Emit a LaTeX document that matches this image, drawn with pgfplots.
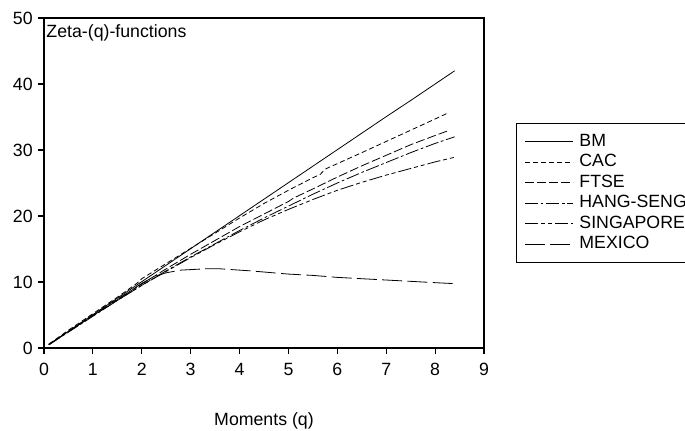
\documentclass[border=0pt]{standalone}
\usepackage{fontspec}
\setmainfont{Liberation Sans}
\usepackage{pgfplots}
\pgfplotsset{compat=1.18}

% Estimated generalized scaling exponents zeta(q)
\pgfplotstableread{
q     v
0.10  0.55
0.50  2.55
1.00  5.05
1.50  7.55
2.00  10.05
2.50  12.55
3.00  15.05
3.50  17.55
4.00  20.05
4.50  22.55
5.00  25.05
5.50  27.55
6.00  30.05
6.50  32.55
7.00  35.05
7.50  37.50
8.00  40.00
8.40  42.00
}\bm

\pgfplotstableread{
q     v
0.10  0.60
0.50  2.70
1.00  5.20
1.50  7.70
1.90  9.80
2.00  10.50
2.50  12.80
3.00  15.10
3.50  17.40
4.00  19.70
4.50  21.90
5.00  23.90
5.50  25.80
5.65  26.30
5.75  27.10
6.50  29.60
7.00  31.30
7.50  33.00
8.00  34.70
8.26  35.60
}\cac

\pgfplotstableread{
q     v
0.10  0.50
0.50  2.50
1.00  5.00
1.50  7.40
2.00  9.70
2.50  12.00
3.00  14.20
3.50  16.30
4.00  18.40
4.50  20.30
5.00  22.20
5.10  22.70
5.50  24.10
6.00  25.90
6.50  27.60
7.00  29.20
7.50  30.80
8.00  32.20
8.26  32.90
}\ftse

\pgfplotstableread{
q     v
0.10  0.50
0.50  2.40
1.00  4.80
1.50  7.20
2.00  9.50
2.50  11.70
3.00  13.80
3.50  15.80
4.00  17.80
4.50  19.70
5.00  21.50
5.50  23.30
6.00  25.00
6.50  26.60
7.00  28.10
7.50  29.60
8.00  31.00
8.40  32.00
}\hangseng

\pgfplotstableread{
q     v
0.10  0.50
0.50  2.50
1.00  4.90
1.50  7.20
2.00  9.50
2.50  11.60
3.00  13.70
3.50  15.70
4.00  17.60
4.50  19.40
5.00  21.00
5.50  22.50
6.00  23.90
6.50  25.10
7.00  26.20
7.50  27.20
8.00  28.20
8.40  28.90
}\singapore

\pgfplotstableread{
q     v
0.10  0.50
0.50  2.50
1.00  4.90
1.50  7.30
2.00  9.80
2.25  10.80
2.50  11.40
2.80  11.80
3.30  12.00
3.60  12.00
4.20  11.70
5.00  11.20
5.50  11.00
6.00  10.70
6.50  10.50
7.00  10.30
7.50  10.10
8.00  9.90
8.40  9.75
}\mexico

\newcommand{\chartfont}{\fontsize{13.3}{15.4}\selectfont}

\begin{document}
\begin{tikzpicture}
\begin{axis}[
  at={(0,0)}, anchor=south west,
  scale only axis,
  width=330pt, height=247.5pt,
  xmin=0, xmax=9, ymin=0, ymax=50,
  xtick={0,1,...,9}, ytick={0,10,...,50},
  xtick pos=bottom, ytick pos=left,
  tick align=outside,
  major tick length=4.5pt,
  axis line style={line width=0.9pt},
  tick style={line width=0.9pt, black},
  /pgf/number format/assume math mode=true,
  ticklabel style={font=\chartfont},
  xticklabel style={yshift=-3.5pt},
  yticklabel style={xshift=-0.5pt},
  xlabel={Moments (q)},
  xlabel style={font=\chartfont, at={(axis description cs:0.5,0)}, anchor=center, yshift=-54.5pt},
  every axis plot/.append style={line width=0.6pt, black},
  legend cell align=left,
  legend style={
    at={(rel axis cs:1.0727,0.682)}, anchor=north west,
    draw=black, line width=0.6pt,
    font=\chartfont,
    inner ysep=6pt,
    row sep=0pt,
    nodes={inner sep=1.2pt, text height=9.6pt, text depth=3pt, inner ysep=1.4pt},
  },
  legend image code/.code={%
    \draw[#1] (3pt,0pt) -- (39pt,0pt);
    \path (0pt,0pt) (42.5pt,0pt);},
]
\addplot[solid] table[x=q, y=v] {\bm};
\addplot[dash pattern=on 3.75pt off 2.25pt] table[x=q, y=v] {\cac};
\addplot[dash pattern=on 6.75pt off 2.25pt] table[x=q, y=v] {\ftse};
\addplot[dash pattern=on 10pt off 2pt on 2pt off 2pt] table[x=q, y=v] {\hangseng};
\addplot[dash pattern=on 10pt off 2.2pt on 3pt off 2.2pt on 3pt off 2.2pt] table[x=q, y=v] {\singapore};
\addplot[dash pattern=on 15pt off 4pt] table[x=q, y=v] {\mexico};
\legend{BM, CAC, FTSE, HANG-SENG, SINGAPORE, MEXICO}
\node[anchor=north west, inner sep=0pt, font=\chartfont]
  at (rel axis cs:0.005,0.982) {Zeta-(q)-functions};
\end{axis}
\pgfresetboundingbox
\useasboundingbox (-33pt,-61.5pt) rectangle (480.75pt,261pt);
\end{tikzpicture}
\end{document}
